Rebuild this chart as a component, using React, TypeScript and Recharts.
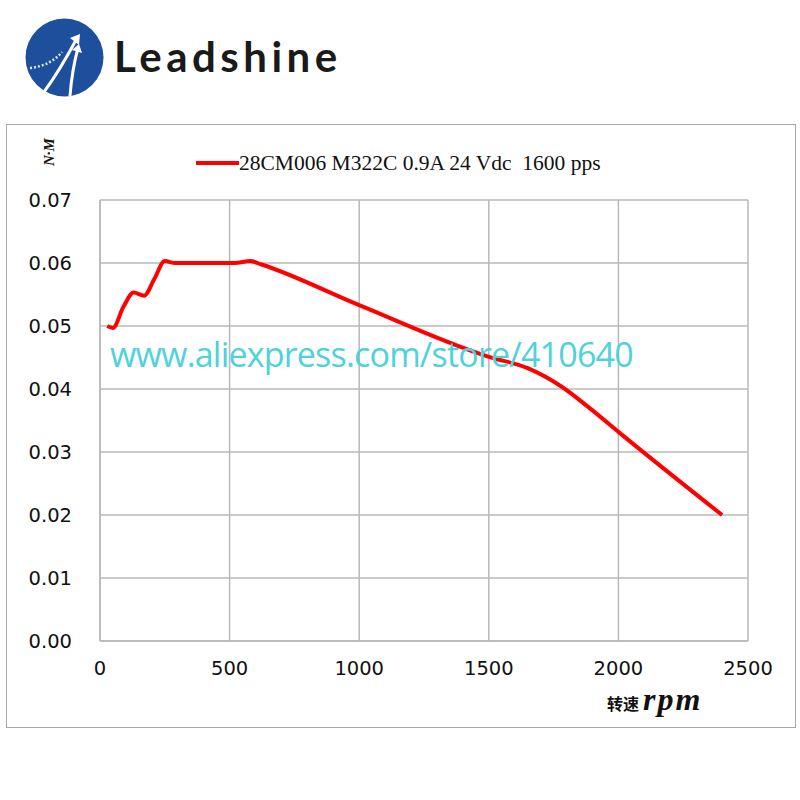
import { LineChart, Line, XAxis, YAxis, CartesianGrid } from 'recharts';

// 转速 (rpm) vs torque (N·M)
const speeds = [28, 50, 90, 130, 170, 210, 250, 290, 400, 520, 580, 620, 1000, 1500, 1650, 1780, 1900, 2000, 2400];
const torques = [0.05, 0.0497, 0.053, 0.0553, 0.0548, 0.0575, 0.0603, 0.06, 0.06, 0.06, 0.0603, 0.0598, 0.0533, 0.0451, 0.0433, 0.0404, 0.0366, 0.0332, 0.02];

const xTicks = [0, 500, 1000, 1500, 2000, 2500];
const yTicks = [0, 0.01, 0.02, 0.03, 0.04, 0.05, 0.06, 0.07];

const seriesName = '28CM006 M322C 0.9A 24 Vdc  1600 pps';
const watermark = 'www.aliexpress.com/store/410640';

const data = speeds.map((s, i) => ({ rpm: s, torque: torques[i] }));

const GRID = '#b8b8b8';
const TICK_FONT = { fill: '#111', fontSize: 19.5, fontFamily: '"DejaVu Sans", sans-serif' };

const Logo = () => (
  <div style={{ position: 'absolute', left: 0, top: 0, width: 400, height: 110 }}>
    <svg width={110} height={110} style={{ position: 'absolute', left: 0, top: 0 }}>
      <circle cx={64.5} cy={57.5} r={39} fill="#1d4f9c" />
      {/* arrows */}
      <path d="M44 92 Q60 70 76 40" stroke="#fff" strokeWidth={3} fill="none" />
      <path d="M70 96 Q72 70 78 48" stroke="#fff" strokeWidth={3} fill="none" />
      <path d="M70 38 L80 34 L79 45 Z" fill="#fff" />
      <path d="M72 50 L79 44 L82 53 Z" fill="#fff" />
      <path d="M30 68 Q50 66 62 52" stroke="#dfe8f5" strokeWidth={2.5} strokeDasharray="2 2" fill="none" />
    </svg>
    <div
      style={{
        position: 'absolute',
        left: 114,
        top: 31,
        fontFamily: 'Lato, sans-serif',
        fontWeight: 700,
        fontSize: 42,
        color: '#1a1a1a',
        letterSpacing: 4.5,
        lineHeight: '50px',
      }}
    >
      Leadshine
    </div>
  </div>
);

export default function App() {
  return (
    <div style={{ position: 'absolute', left: 0, top: 0, width: 800, height: 800, background: '#fff' }}>
      <Logo />
      <div
        style={{
          position: 'absolute',
          left: 6,
          top: 124,
          width: 790,
          height: 604,
          border: '1.5px solid #a8a8a8',
          boxSizing: 'border-box',
        }}
      />
      <div style={{ position: 'absolute', left: 0, top: 0 }}>
        <LineChart width={800} height={800} data={data} margin={{ top: 200, right: 52, bottom: 129, left: 40 }}>
          <CartesianGrid stroke={GRID} strokeWidth={1.5} />
          <XAxis
            dataKey="rpm"
            type="number"
            domain={[0, 2500]}
            ticks={xTicks}
            height={30}
            tickLine={false}
            axisLine={{ stroke: GRID, strokeWidth: 1.5 }}
            tickMargin={14}
            tick={TICK_FONT}
            interval={0}
          />
          <YAxis
            type="number"
            domain={[0, 0.07]}
            ticks={yTicks}
            width={60}
            tickLine={false}
            axisLine={{ stroke: GRID, strokeWidth: 1.5 }}
            tickMargin={22}
            tickFormatter={(v: number) => v.toFixed(2)}
            tick={TICK_FONT}
            interval={0}
          />
          <Line
            type="monotone"
            dataKey="torque"
            name={seriesName}
            stroke="#ff0000"
            strokeWidth={4}
            dot={false}
            isAnimationActive={false}
          />
        </LineChart>
      </div>
      {/* legend */}
      <div style={{ position: 'absolute', left: 196, top: 150, display: 'flex', alignItems: 'center' }}>
        <div style={{ width: 43, height: 4, background: '#ff0000' }} />
        <span
          style={{
            fontFamily: '"Liberation Serif", serif',
            fontSize: 21.5,
            color: '#111',
            whiteSpace: 'pre',
            lineHeight: '26px',
          }}
        >
          {seriesName}
        </span>
      </div>
      <div
        style={{
          position: 'absolute',
          left: 41,
          top: 166,
          transform: 'rotate(-90deg)',
          transformOrigin: 'left top',
          fontFamily: '"Liberation Serif", serif',
          fontStyle: 'italic',
          fontWeight: 700,
          fontSize: 15,
          lineHeight: '17px',
          color: '#111',
          whiteSpace: 'nowrap',
        }}
      >
        N·M
      </div>
      <div
        style={{
          position: 'absolute',
          left: 607,
          top: 682,
          color: '#111',
          fontWeight: 700,
          whiteSpace: 'nowrap',
          lineHeight: '34px',
        }}
      >
        <span style={{ fontFamily: '"Noto Sans CJK SC", sans-serif', fontSize: 16 }}>转速</span>
        <span
          style={{
            fontFamily: '"Liberation Serif", serif',
            fontStyle: 'italic',
            fontSize: 32,
            letterSpacing: 2,
            marginLeft: 4,
          }}
        >
          rpm
        </span>
      </div>
      <div
        style={{
          position: 'absolute',
          left: 110,
          top: 332,
          color: '#4fd2da',
          fontFamily: '"Open Sans", sans-serif',
          fontSize: 34,
          letterSpacing: -0.8,
          whiteSpace: 'nowrap',
          lineHeight: '44px',
        }}
      >
        {watermark}
      </div>
    </div>
  );
}
